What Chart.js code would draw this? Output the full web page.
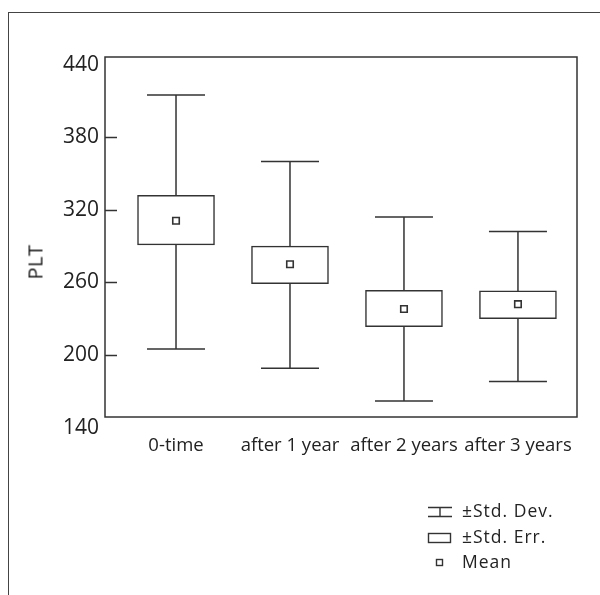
<!DOCTYPE html>
<html>
<head>
<meta charset="utf-8">
<script src="https://cdn.jsdelivr.net/npm/chart.js@4.4.1/dist/chart.umd.min.js"></script>
<style>
    html, body { margin: 0; padding: 0; background: #fff; }
    #wrap { position: relative; width: 600px; height: 595px; overflow: hidden; }
    #frame {
        position: absolute; left: 8px; top: 12px; width: 700px; height: 700px;
        border-top: 1.5px solid #444; border-left: 1.5px solid #444;
    }
    #plt { position: absolute; left: 0; top: 0; }
    #ytitle {
        position: absolute; left: 35px; top: 262px;
        transform: translate(-50%, -50%) rotate(-90deg);
        font-family: "Open Sans", sans-serif; font-size: 20px; color: #222;
        letter-spacing: 0.5px; white-space: nowrap;
    }
    #legend {
        position: absolute; left: 427px; top: 498px;
        font-family: "Open Sans", sans-serif; font-size: 17.5px; color: #222;
        letter-spacing: 1px;
    }
    #legend div { height: 25.5px; line-height: 25px; white-space: nowrap; }
    #legend svg { display: inline-block; vertical-align: middle; margin-right: 9px; }
</style>
</head>
<body>
<div id="wrap">
    <div id="frame"></div>
    <canvas id="plt" width="600" height="595"></canvas>
    <div id="ytitle">PLT</div>
    <div id="legend">
        <div><svg width="26" height="12"><path d="M1 1.5H25M13 1.5V10.5M1 10.5H25" stroke="#333" stroke-width="1.4" fill="none"/></svg>±Std. Dev.</div>
        <div><svg width="26" height="12"><rect x="1.5" y="1.5" width="22" height="9" stroke="#333" stroke-width="1.4" fill="#fff"/></svg>±Std. Err.</div>
        <div><svg width="26" height="12"><rect x="9.5" y="2.5" width="6" height="6" stroke="#333" stroke-width="1.4" fill="#fff"/></svg>Mean</div>
    </div>
</div>
<script>
// Data
const categories = ["0-time", "after 1 year", "after 2 years", "after 3 years"];
const means = [311, 275, 238, 242];
const seLow = [291, 259, 223.5, 230];
const seHigh = [332, 290, 253.5, 253];
const sdLow = [205, 189, 162, 178];
const sdHigh = [415, 360, 314, 302];
const yTicks = [140, 200, 260, 320, 380, 440];

const ink = "#333";

// frame, inward tick marks and SD whiskers
const boxPlotExtras = {
    id: "boxPlotExtras",
    beforeDatasetsDraw(chart) {
        const { ctx, chartArea, scales } = chart;
        const x = scales.x, y = scales.y;
        ctx.save();
        ctx.strokeStyle = ink;
        ctx.lineWidth = 1.5;

        // whiskers
        sdLow.forEach((lo, i) => {
            const cx = x.getPixelForValue(i);
            const yLo = y.getPixelForValue(lo);
            const yHi = y.getPixelForValue(sdHigh[i]);
            ctx.beginPath();
            ctx.moveTo(cx, yLo);
            ctx.lineTo(cx, yHi);
            ctx.moveTo(cx - 29, yLo);
            ctx.lineTo(cx + 29, yLo);
            ctx.moveTo(cx - 29, yHi);
            ctx.lineTo(cx + 29, yHi);
            ctx.stroke();
        });

        // tick marks pointing into the plot (none on the end values)
        yTicks.slice(1, -1).forEach((v) => {
            const py = Math.round(y.getPixelForValue(v)) + 0.5;
            ctx.beginPath();
            ctx.moveTo(chartArea.left, py);
            ctx.lineTo(chartArea.left + 12, py);
            ctx.stroke();
        });

        ctx.strokeRect(chartArea.left, chartArea.top,
            chartArea.right - chartArea.left, chartArea.bottom - chartArea.top);
        ctx.restore();
    },
};

new Chart(document.getElementById("plt"), {
    data: {
        datasets: [
            {
                type: "bar",
                label: "±Std. Err.",
                data: categories.map((c, i) => ({ x: i, y: [seLow[i], seHigh[i]] })),
                backgroundColor: "#fff",
                borderColor: ink,
                borderWidth: 1.5,
                borderSkipped: false,
                barThickness: 77,
                order: 2,
            },
            {
                type: "scatter",
                label: "Mean",
                data: categories.map((c, i) => ({ x: i, y: means[i] })),
                pointStyle: "rect",
                pointRadius: 4.6,
                backgroundColor: "#fff",
                borderColor: ink,
                borderWidth: 1.6,
                order: 1,
            },
        ],
    },
    options: {
        responsive: false,
        animation: false,
        layout: { padding: { left: 0, right: 23, top: 57, bottom: 138 } },
        plugins: {
            legend: { display: false },
            tooltip: { enabled: false },
        },
        scales: {
            x: {
                type: "linear",
                min: -0.623,
                max: 3.518,
                offset: false,
                afterBuildTicks: (scale) => {
                    scale.ticks = categories.map((c, i) => ({ value: i }));
                },
                afterFit: (scale) => { scale.height = 40; },
                grid: { display: false, drawTicks: false, offset: false },
                border: { display: false },
                ticks: {
                    callback: (v) => categories[v],
                    color: "#222",
                    font: { family: "Open Sans", size: 18.5 },
                    padding: 18,
                    maxRotation: 0,
                    autoSkip: false,
                },
            },
            y: {
                min: 148.7,
                max: 446.4,
                afterBuildTicks: (scale) => {
                    scale.ticks = yTicks.map((v) => ({ value: v }));
                },
                afterFit: (scale) => { scale.width = 105; },
                grid: { display: false, drawTicks: false },
                border: { display: false },
                ticks: {
                    color: "#222",
                    font: { family: "Open Sans", size: 21 },
                    padding: 6,
                },
            },
        },
    },
    plugins: [boxPlotExtras],
});
</script>
</body>
</html>
